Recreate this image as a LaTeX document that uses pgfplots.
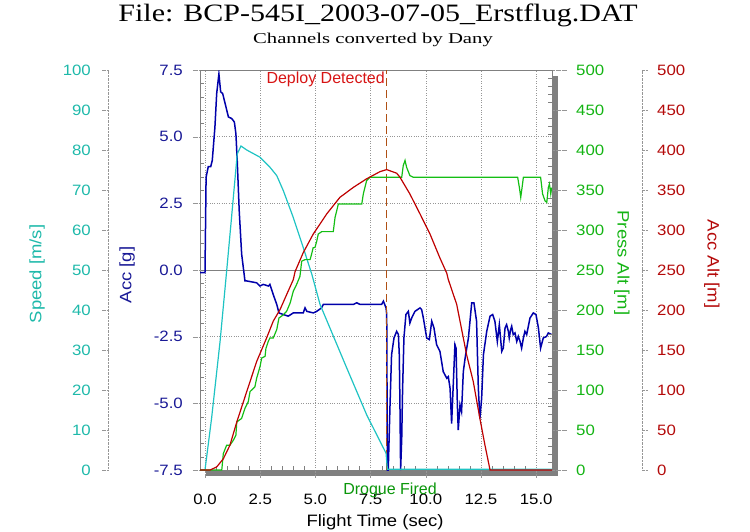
\documentclass[border=0pt]{standalone}
\usepackage{graphicx}
\usepackage{fontspec}
\setmainfont{Liberation Serif}
\setsansfont{Liberation Sans}
\newfontfamily\arial{Liberation Sans}
\newfontfamily\arialw{Liberation Sans}[FakeStretch=1.12]
\usepackage{pgfplots}
\pgfplotsset{compat=1.18}
\definecolor{speedline}{RGB}{30,195,195}
\definecolor{speedtxt}{RGB}{30,185,170}
\definecolor{accline}{RGB}{0,0,170}
\definecolor{acctxt}{RGB}{25,25,150}
\definecolor{pressline}{RGB}{20,190,20}
\definecolor{presstxt}{RGB}{20,180,20}
\definecolor{altline}{RGB}{190,0,0}
\definecolor{alttxt}{RGB}{180,10,10}
\definecolor{deployc}{RGB}{175,80,20}
\definecolor{framegray}{RGB}{128,128,128}
\definecolor{gridgray}{RGB}{150,150,150}
\newcommand\ticks{\arialw\fontsize{15}{18}\selectfont}
\newcommand\labfont{\arialw\fontsize{16.5}{19}\selectfont}
\begin{document}
\begin{tikzpicture}[x=1pt,y=1pt]
\path[use as bounding box] (0,0) rectangle (750,531);
\fill[framegray] (206,55) rectangle (558,61);
\fill[framegray] (552,55) rectangle (558,455);
% ---- Acc (main) axis
\begin{axis}[
  at={(200pt,61pt)}, anchor=south west, scale only axis,
  width=352pt, height=400pt,
  xmin=-0.226, xmax=15.716, ymin=-7.5, ymax=7.5,
  axis line style={framegray},
  xtick={0,2.5,...,15}, xticklabels={0.0,2.5,5.0,7.5,10.0,12.5,15.0},
  ytick={-7.5,-5,...,7.5}, yticklabels={-7.5,-5.0,-2.5,0.0,2.5,5.0,7.5},
  xtick pos=bottom, ytick pos=left,
  tick align=inside, major tick length=-8pt, minor tick length=4pt,
  minor x tick num=4, minor y tick num=4,
  major tick style={gridgray, densely dotted}, minor tick style={framegray},
  grid=major, major grid style={gridgray, dotted},
  extra y ticks={0}, extra y tick labels={},
  extra y tick style={major grid style={framegray, solid}},
  xticklabel style={font=\ticks, anchor=north, inner sep=0pt, yshift=-24pt},
  yticklabel style={font=\ticks, anchor=east, inner sep=0pt, xshift=-17pt, text=acctxt},
]
\addplot[accline, line width=1.5pt] table {
-0.226 -0.1
0.00 -0.1
0.05 3.48
0.15 3.88
0.26 3.88
0.33 4.11
0.45 5.36
0.53 6.62
0.63 7.35
0.71 6.68
0.80 6.62
0.91 6.25
1.06 5.74
1.21 5.68
1.33 5.55
1.40 5.11
1.46 4.11
1.55 2.22
1.66 0.60
1.81 -0.41
1.89 -0.41
2.34 -0.48
2.49 -0.60
2.64 -0.54
2.87 -0.60
2.94 -0.54
3.09 -0.92
3.25 -1.29
3.35 -1.61
3.55 -1.67
3.77 -1.73
4.00 -1.61
4.45 -1.61
4.53 -1.42
4.61 -1.55
4.91 -1.61
5.06 -1.55
5.28 -1.42
5.36 -1.29
6.72 -1.29
6.87 -1.23
7.02 -1.29
8.00 -1.29
8.08 -1.17
8.20 -1.42
8.23 -1.67
8.26 -7.5
8.30 -7.5
8.38 -5.06
8.45 -3.18
8.56 -2.55
8.68 -2.30
8.76 -2.42
8.80 -3.18
8.83 -5.06
8.86 -7.5
8.91 -6.32
8.95 -4.44
9.01 -2.55
9.10 -1.67
9.21 -1.55
9.28 -1.99
9.36 -1.80
9.51 -1.55
9.74 -1.42
9.81 -1.48
9.89 -1.80
10.04 -2.55
10.16 -2.61
10.27 -1.92
10.37 -2.17
10.49 -2.80
10.64 -3.05
10.79 -3.81
10.95 -4.06
11.02 -4.00
11.10 -4.44
11.17 -5.76
11.25 -4.18
11.32 -2.80
11.37 -2.93
11.43 -5.06
11.47 -6.00
11.55 -5.06
11.62 -5.31
11.70 -3.81
11.78 -3.31
11.93 -2.55
12.08 -1.23
12.18 -1.23
12.30 -1.92
12.38 -4.44
12.45 -5.57
12.53 -4.81
12.61 -3.18
12.76 -2.30
12.91 -1.73
13.03 -1.67
13.13 -1.92
13.24 -2.68
13.33 -2.05
13.44 -3.05
13.51 -2.93
13.59 -2.17
13.66 -2.05
13.74 -2.30
13.78 -2.55
13.84 -2.24
13.89 -2.11
13.96 -2.42
14.04 -2.36
14.12 -2.68
14.19 -2.49
14.27 -2.68
14.34 -2.93
14.42 -2.55
14.49 -2.30
14.57 -2.42
14.72 -1.80
14.87 -1.61
14.99 -1.67
15.10 -2.17
15.20 -2.93
15.32 -2.55
15.47 -2.49
15.55 -2.36
15.70 -2.42
};
\addplot[deployc, line width=1.4pt, dash pattern=on 8pt off 4pt] coordinates {(8.23,-7.5) (8.23,7.5)};
\end{axis}
% ---- Speed axis (far left)
\begin{axis}[
  at={(108pt,61pt)}, anchor=south west, scale only axis,
  width=444pt, height=400pt,
  xmin=-4.393, xmax=15.716, ymin=0, ymax=100,
  axis x line=none, axis y line*=left,
  y axis line style={gridgray, densely dotted, -},
  ytick={0,10,...,100}, yticklabels={0,10,20,30,40,50,60,70,80,90,100},
  tick align=inside, major tick length=-7pt, minor y tick num=0,
  major tick style={gridgray, densely dotted},
  yticklabel style={font=\ticks, anchor=east, inner sep=0pt, xshift=-17pt, text=speedtxt},
]
\addplot[speedline, line width=1.2pt] table {
-0.226 0
0.00 0
0.30 13
0.68 32
0.98 49.7
1.20 63
1.46 79
1.63 81
1.89 80
2.49 78.2
2.94 75.7
3.25 73.6
3.55 69.8
4.00 63.1
4.45 55.6
4.84 48.9
5.21 41.4
6.42 25.5
7.33 13.7
8.20 4.2
8.26 0.2
15.716 0.2
};
\end{axis}
% ---- Press Alt axis (right, at frame)
\begin{axis}[
  at={(200pt,61pt)}, anchor=south west, scale only axis,
  width=352pt, height=400pt,
  xmin=-0.226, xmax=15.716, ymin=0, ymax=500,
  axis x line=none, axis y line*=right,
  y axis line style={framegray, -},
  ytick={0,50,...,500}, yticklabels={0,50,100,150,200,250,300,350,400,450,500},
  tick align=inside, major tick length=-15pt, minor tick length=4pt, minor y tick num=4,
  major tick style={gridgray, densely dotted}, minor tick style={framegray},
  yticklabel style={font=\ticks, anchor=west, inner sep=0pt, xshift=24pt, text=presstxt},
]
\addplot[pressline, line width=1.2pt] table {
-0.226 0
0.76 0
0.83 20.5
0.98 31
1.13 31
1.28 37
1.40 43.6
1.44 60
1.66 64.5
1.81 77
1.96 85.4
2.04 98
2.26 104
2.34 114.7
2.49 129
2.57 140
2.72 142
2.76 152
2.87 161
2.94 165
3.09 165
3.25 175.5
3.35 190
3.55 194
3.70 198.5
3.86 209
4.00 223.6
4.15 232
4.30 242
4.38 261
4.53 263
4.76 263
4.83 270
4.90 278
4.98 278
5.06 286
5.13 295
5.29 298
5.81 298
5.89 315.6
6.04 332.5
7.10 332.5
7.17 345
7.32 361.7
7.47 366
8.91 366
8.98 380.6
9.06 387
9.13 378.5
9.28 368
9.43 366
14.16 366
14.24 353
14.30 340.8
14.36 353
14.42 366
15.20 366
15.29 345
15.40 336.6
15.48 334.5
15.55 353
15.60 357.6
15.66 345
15.70 353
};
\end{axis}
% ---- Acc Alt axis (far right)
\begin{axis}[
  at={(200pt,61pt)}, anchor=south west, scale only axis,
  width=442pt, height=400pt,
  xmin=-0.226, xmax=19.792, ymin=0, ymax=500,
  axis x line=none, axis y line*=right,
  y axis line style={gridgray, densely dotted, -},
  ytick={0,50,...,500}, yticklabels={0,50,100,150,200,250,300,350,400,450,500},
  tick align=inside, major tick length=-6pt, minor y tick num=0,
  major tick style={gridgray, densely dotted},
  yticklabel style={font=\ticks, anchor=west, inner sep=0pt, xshift=15pt, text=alttxt},
]
\addplot[altline, line width=1.2pt] table {
-0.226 0
0.23 0
0.53 3.8
0.83 14
1.13 31
1.44 60
1.89 98
2.34 135.6
2.79 165
3.09 186
3.40 200.6
3.70 219.4
4.00 238
4.08 248
4.45 271.7
4.90 294.8
5.51 320
6.11 340.8
6.72 353.3
7.32 364
7.93 373
8.23 375.5
8.68 371
8.83 366
9.28 345
9.74 320
10.19 295
10.64 265
10.95 246
11.02 238
11.40 207
11.85 144
12.15 110.5
12.45 64.4
12.68 31
12.91 0
15.716 0
};
\end{axis}
% ---- texts
\node[anchor=base] at (378,509) {\fontsize{25}{28}\selectfont\scalebox{1.2}[1]{File: BCP-545I\_2003-07-05\_Erstflug.DAT}};
\node[anchor=base] at (373,487.7) {\fontsize{15}{18}\selectfont\scalebox{1.38}[1]{Channels converted by Dany}};
\node[anchor=base east, inner sep=0pt, text={rgb,255:red,215;green,20;blue,20}] at (385,447.7) {\arial\fontsize{16}{18}\selectfont Deploy Detected};
\node[anchor=base, inner sep=0pt, text={rgb,255:red,10;green,150;blue,10}] at (390,37) {\arial\fontsize{16}{18}\selectfont Drogue Fired};
\node[anchor=base, inner sep=0pt] at (375,5) {\labfont Flight Time (sec)};
\node[rotate=90, text=speedtxt] at (37,257) {\labfont Speed [m/s]};
\node[rotate=90, text=acctxt] at (127,256) {\labfont Acc [g]};
\node[rotate=-90, text=presstxt] at (622,268) {\labfont Press Alt [m]};
\node[rotate=-90, text=alttxt] at (712,267) {\labfont Acc Alt [m]};
\end{tikzpicture}
\end{document}
